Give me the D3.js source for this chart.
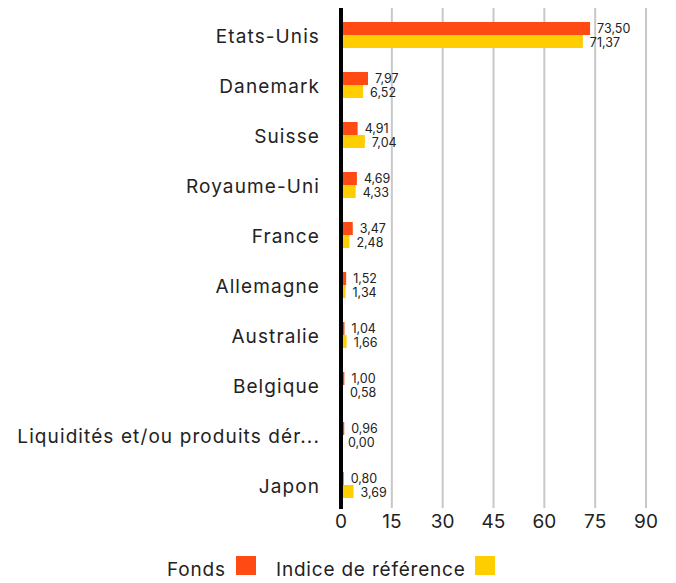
<!DOCTYPE html>
<html>
<head>
<meta charset="utf-8">
<script src="https://cdn.jsdelivr.net/npm/d3@7"></script>
<style>
  body { margin: 0; background: #fff; }
  text { font-family: Inter, sans-serif; fill: #222; }
</style>
</head>
<body>
<div id="root"></div>
<script>
const categories = ['Etats-Unis', 'Danemark', 'Suisse', 'Royaume-Uni', 'France', 'Allemagne',
  'Australie', 'Belgique', 'Liquidités et/ou produits dér...', 'Japon'];
const fonds = [73.50, 7.97, 4.91, 4.69, 3.47, 1.52, 1.04, 1.00, 0.96, 0.80];
const indice = [71.37, 6.52, 7.04, 4.33, 2.48, 1.34, 1.66, 0.58, 0.00, 3.69];
const ticks = [0, 15, 30, 45, 60, 75, 90];
const seriesNames = ['Fonds', 'Indice de référence'];
const colors = ['#FF4A14', '#FFCE00'];

const width = 676;
const height = 583;
const padding = { top: 10, left: 341, right: 30, bottom: 75 };

const svg = d3.select('#root').append('svg')
  .attr('width', width)
  .attr('height', height);

const x = d3.scaleLinear().domain([0, 90]).range([padding.left, 646]);
const y = d3.scaleBand().domain(categories).range([padding.top, 510]);
const barH = 13;

// grid lines
svg.append('g').selectAll('line').data(ticks.slice(1)).join('line')
  .attr('x1', d => x(d)).attr('x2', d => x(d))
  .attr('y1', 8).attr('y2', 508)
  .attr('stroke', '#c8c8c8').attr('stroke-width', 2);

const rows = categories.map((c, i) => ({ c, f: fonds[i], b: indice[i] }));

const g = svg.append('g');
g.selectAll('.bar-f').data(rows).join('rect')
  .attr('x', x(0)).attr('y', d => y(d.c) + y.bandwidth() / 2 - barH)
  .attr('width', d => x(d.f) - x(0)).attr('height', barH)
  .attr('fill', colors[0]);
g.selectAll('.bar-b').data(rows).join('rect')
  .attr('x', x(0)).attr('y', d => y(d.c) + y.bandwidth() / 2)
  .attr('width', d => x(d.b) - x(0)).attr('height', barH)
  .attr('fill', colors[1]);

// value labels
const fmt = v => v.toFixed(2).replace('.', ',');
g.selectAll('.lab-f').data(rows).join('text')
  .attr('x', d => x(d.f) + 7).attr('y', d => y(d.c) + y.bandwidth() / 2 - barH / 2)
  .attr('dy', '0.35em').attr('font-size', 12.5).text(d => fmt(d.f));
g.selectAll('.lab-b').data(rows).join('text')
  .attr('x', d => x(d.b) + 7).attr('y', d => y(d.c) + y.bandwidth() / 2 + barH / 2 + 1.5)
  .attr('dy', '0.35em').attr('font-size', 12.5).text(d => fmt(d.b));

// category labels
svg.append('g').selectAll('text').data(categories).join('text')
  .attr('x', 320).attr('y', d => y(d) + y.bandwidth() / 2 + 1.5)
  .attr('dy', '0.35em').attr('text-anchor', 'end').attr('font-size', 19)
  .attr('letter-spacing', '1.1px')
  .text(d => d);

// zero axis
svg.append('line')
  .attr('x1', x(0)).attr('x2', x(0)).attr('y1', 8).attr('y2', 509)
  .attr('stroke', '#000').attr('stroke-width', 4);

// x tick labels
svg.append('g').selectAll('text').data(ticks).join('text')
  .attr('x', d => x(d)).attr('y', 528)
  .attr('text-anchor', 'middle').attr('font-size', 19)
  .text(d => d);

// legend
const legend = svg.append('g');
const lx = [167, 276];
const sx = [236, 475];
seriesNames.forEach((n, i) => {
  legend.append('text').attr('x', lx[i]).attr('y', 576)
    .attr('font-size', 19).attr('letter-spacing', '0.8px').text(n);
  legend.append('rect').attr('x', sx[i]).attr('y', 556).attr('width', 20).attr('height', 19)
    .attr('fill', colors[i]);
});
</script>
</body>
</html>
